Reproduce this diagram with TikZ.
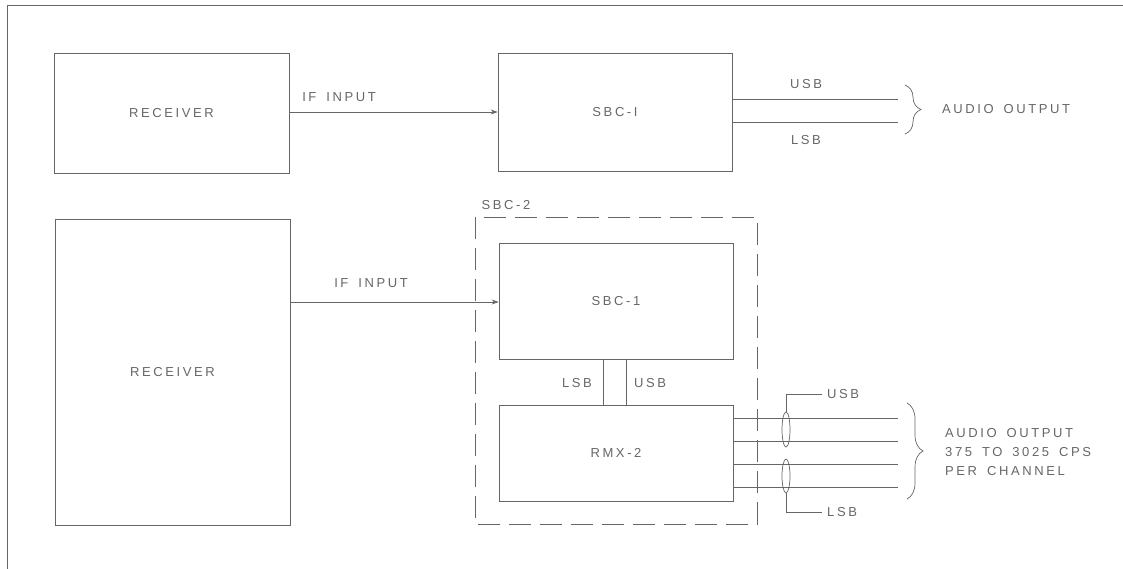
\documentclass[tikz,border=0pt]{standalone}
\usepackage{fontspec}
\newfontfamily\plotfont[LetterSpace=20,WordSpace=1.6]{Liberation Sans}
\usetikzlibrary{arrows.meta,decorations.pathreplacing,shapes.geometric}
\begin{document}
\begin{tikzpicture}[x=1pt,y=-1pt,
  ln/.style={draw=black!60,line width=0.7pt},
  txt/.style={font=\plotfont\fontsize{13}{19}\selectfont,text=black!60},
  blk/.style={ln,txt,rectangle,inner sep=0pt},
  lbl/.style={txt,inner sep=0pt},
  arr/.style={ln,-{Stealth[length=7pt,width=5pt]}},
  brc/.style={ln,decorate,decoration={brace,amplitude=16pt,aspect=0.5}},
  grp/.style={ln,dash pattern=on 22pt off 9pt},
  ]
\useasboundingbox (0,0) rectangle (1123,569);
% frame
\draw[ln] (7,569) -- (7,5) -- (1123,5);

% top row
\node[blk,minimum width=235pt,minimum height=120pt] (rec1) at (171.5,113) {RECEIVER};
\node[blk,minimum width=234pt,minimum height=118pt] (sbcA) at (615,112) {SBC-I};
\draw[arr] (rec1.east |- 0,112) -- (sbcA.west |- 0,112);
\node[lbl] (if1) at (339,97) {IF INPUT};
\coordinate (u1) at (898,99);
\coordinate (l1) at (898,122);
\draw[ln] (sbcA.east |- u1) -- (u1);
\draw[ln] (sbcA.east |- l1) -- (l1);
\node[lbl] (usb1) at (806,84) {USB};
\node[lbl] (lsb1) at (806,140) {LSB};
\coordinate (b1t) at (905,85);
\coordinate (b1b) at (905,134);
\draw[brc] (b1t) -- (b1b);
\node[lbl,anchor=west] (ao1) at (942,109) {AUDIO OUTPUT};

% bottom row
\node[blk,minimum width=235pt,minimum height=306pt] (rec2) at (172.5,372) {RECEIVER};
\draw[grp] (475,217) rectangle (757,524);
\node[lbl] (sbc2) at (506,205) {SBC-2};
\node[blk,minimum width=234pt,minimum height=116pt] (sbcB) at (616,301) {SBC-1};
\draw[arr] (rec2.east |- 0,302) -- (sbcB.west |- 0,302);
\node[lbl] (if2) at (371,283) {IF INPUT};
\node[blk,minimum width=234pt,minimum height=96pt] (rmx) at (616,453) {RMX-2};
\draw[ln] (sbcB.south -| 603,0) -- (rmx.north -| 603,0);
\draw[ln] (sbcB.south -| 626,0) -- (rmx.north -| 626,0);
\node[lbl] (lsbv) at (577,383) {LSB};
\node[lbl] (usbv) at (650,383) {USB};

\foreach \yy/\nm in {418/o1,441/o2,464/o3,487/o4}{
  \coordinate (\nm) at (898,\yy);
  \draw[ln] (rmx.east |- \nm) -- (\nm);
}
\node[ln,ellipse,inner sep=0pt,minimum width=8pt,minimum height=35pt] (e1) at (786,429.5) {};
\node[ln,ellipse,inner sep=0pt,minimum width=8pt,minimum height=34pt] (e2) at (786,476) {};
\node[lbl,anchor=west] (usb2) at (827,394) {USB};
\node[lbl,anchor=west] (lsb2) at (827,512) {LSB};
\draw[ln] (e1.north) -- (786,394) -- ([xshift=-5pt]usb2.west);
\draw[ln] (e2.south) -- (786,512) -- ([xshift=-5pt]lsb2.west);
\coordinate (b2t) at (907,403);
\coordinate (b2b) at (907,499);
\draw[brc] (b2t) -- (b2b);
\node[lbl,anchor=west,align=left] (ao2) at (945,452) {AUDIO OUTPUT\\375 TO 3025 CPS\\PER CHANNEL};
\end{tikzpicture}
\end{document}
